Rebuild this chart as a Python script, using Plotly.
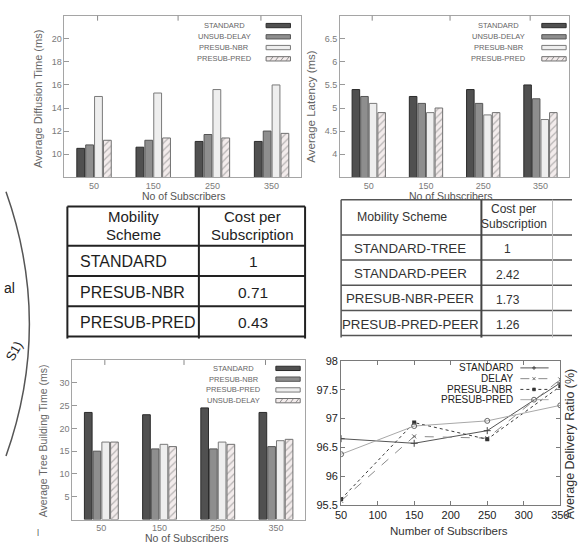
import plotly.graph_objects as go

W, H = 581, 548
FONT = "Liberation Sans, Arial, sans-serif"


def fx(px):
    return px / W


def fy(py):
    return 1 - py / H


# ---------------- data ----------------
subscribers = ["50", "150", "250", "350"]

diff_names = ["STANDARD", "UNSUB-DELAY", "PRESUB-NBR", "PRESUB-PRED"]
diff_standard = [10.5, 10.6, 11.1, 11.1]
diff_unsub = [10.8, 11.2, 11.7, 12.0]
diff_nbr = [15.0, 15.3, 15.6, 16.0]
diff_pred = [11.2, 11.4, 11.4, 11.8]
diff_ticks = [10, 12, 14, 16, 18, 20]

lat_names = ["STANDARD", "UNSUB-DELAY", "PRESUB-NBR", "PRESUB-PRED"]
lat_standard = [5.4, 5.25, 5.4, 5.5]
lat_unsub = [5.25, 5.1, 5.1, 5.2]
lat_nbr = [5.1, 4.9, 4.85, 4.75]
lat_pred = [4.9, 5.0, 4.9, 4.9]
lat_ticks = [4, 4.5, 5, 5.5, 6, 6.5]
lat_ticktext = ["4", "4.5", "5", "5.5", "6", "6.5"]

tree_names = ["STANDARD", "PRESUB-NBR", "PRESUB-PRED", "UNSUB-DELAY"]
tree_standard = [23.5, 23.0, 24.5, 23.5]
tree_nbr = [15.0, 15.5, 15.5, 16.0]
tree_pred = [17.0, 16.5, 17.0, 17.3]
tree_unsub = [17.0, 16.0, 16.5, 17.6]
tree_ticks = [5, 10, 15, 20, 25, 30]

deliv_names = ["STANDARD", "DELAY", "PRESUB-NBR", "PRESUB-PRED"]
deliv_x = [50, 150, 250, 350]
deliv_standard = [96.65, 96.57, 96.79, 97.62]
deliv_delay = [95.57, 96.69, 96.66, 97.68]
deliv_nbr = [95.60, 96.93, 96.64, 97.56]
deliv_pred = [96.38, 96.87, 96.96, 97.23]
deliv_xticks = [50, 100, 150, 200, 250, 300, 350]
deliv_yticks = [95.5, 96, 96.5, 97, 97.5, 98]
deliv_yticktext = ["95.5", "96", "96.5", "97", "97.5", "98"]

table1_header = [["Mobility", "Scheme"], ["Cost per", "Subscription"]]
table1_schemes = ["STANDARD", "PRESUB-NBR", "PRESUB-PRED"]
table1_costs = ["1", "0.71", "0.43"]

table2_header = [["Mobility Scheme"], ["Cost per", "Subscription"]]
table2_schemes = ["STANDARD-TREE", "STANDARD-PEER", "PRESUB-NBR-PEER", "PRESUB-PRED-PEER"]
table2_costs = ["1", "2.42", "1.73", "1.26"]

# ---------------- styles ----------------
bar_styles = [
    dict(color="#505050", line=dict(color="#2b2b2b", width=1)),
    dict(color="#8e8e8e", line=dict(color="#555555", width=1)),
    dict(color="#eeeeee", line=dict(color="#7a7a7a", width=1)),
    dict(color="#f3ecec", line=dict(color="#707070", width=1),
         pattern=dict(shape="/", fgcolor="#7a7a7a", bgcolor="#f3ecec",
                      size=5, solidity=0.25)),
]

line_styles = [
    dict(line=dict(color="#555555", width=1, dash="solid"),
         marker=dict(symbol="cross-thin", size=5, line=dict(width=1, color="#444444"))),
    dict(line=dict(color="#8a8a8a", width=1, dash="dash"),
         marker=dict(symbol="x-thin", size=4, line=dict(width=1, color="#666666"))),
    dict(line=dict(color="#3a3a3a", width=1, dash="dot"),
         marker=dict(symbol="square", size=4, color="#333333")),
    dict(line=dict(color="#a8a8a8", width=1, dash="solid"),
         marker=dict(symbol="circle-open", size=5, color="#666666")),
]

fig = go.Figure()


def add_bars(series, names, xa, ya):
    for vals, name, st in zip(series, names, bar_styles):
        fig.add_trace(go.Bar(x=subscribers, y=vals, name=name, marker=st,
                             xaxis=xa, yaxis=ya, showlegend=False))


add_bars([diff_standard, diff_unsub, diff_nbr, diff_pred], diff_names, "x", "y")
add_bars([lat_standard, lat_unsub, lat_nbr, lat_pred], lat_names, "x2", "y2")
add_bars([tree_standard, tree_nbr, tree_pred, tree_unsub], tree_names, "x3", "y3")

for vals, name, st in zip([deliv_standard, deliv_delay, deliv_nbr, deliv_pred],
                          deliv_names, line_styles):
    fig.add_trace(go.Scatter(x=deliv_x, y=vals, name=name, mode="lines+markers",
                             line=st["line"], marker=st["marker"],
                             xaxis="x4", yaxis="y4", showlegend=False))

# ---------------- axes ----------------
bar_x = dict(type="category", showline=True, mirror=True, linecolor="#a5a5a5",
             linewidth=1, ticks="", showgrid=False, zeroline=False,
             tickfont=dict(size=9, color="#7a7a7a", family=FONT))
bar_y = dict(showline=True, mirror=True, linecolor="#a5a5a5", linewidth=1,
             ticks="inside", ticklen=5, tickcolor="#999999", showgrid=False,
             zeroline=False, tickfont=dict(size=9, color="#7a7a7a", family=FONT))

fig.update_layout(
    xaxis=dict(bar_x, domain=[fx(60), fx(303)], anchor="y"),
    yaxis=dict(bar_y, domain=[fy(175), fy(10)], anchor="x", range=[8, 22],
               tickvals=diff_ticks),
    xaxis2=dict(bar_x, domain=[fx(343), fx(578)], anchor="y2"),
    yaxis2=dict(bar_y, domain=[fy(175), fy(10)], anchor="x2", range=[3.5, 7.0],
                tickvals=lat_ticks, ticktext=lat_ticktext),
    xaxis3=dict(bar_x, domain=[fx(68), fx(307)], anchor="y3"),
    yaxis3=dict(bar_y, domain=[fy(525), fy(362)], anchor="x3", range=[0, 35],
                tickvals=tree_ticks),
    xaxis4=dict(domain=[fx(344), fx(569)], anchor="y4", range=[50, 350],
                tickvals=deliv_xticks, showline=True, mirror="ticks",
                linecolor="#7a7a7a", linewidth=1, ticks="inside", ticklen=4,
                tickcolor="#7a7a7a", showgrid=False, zeroline=False,
                tickfont=dict(size=11, color="#222222", family=FONT)),
    yaxis4=dict(domain=[fy(510), fy(363)], anchor="x4", range=[95.5, 98],
                tickvals=deliv_yticks, ticktext=deliv_yticktext, showline=True,
                mirror="ticks", linecolor="#7a7a7a", linewidth=1, ticks="inside",
                ticklen=4, tickcolor="#7a7a7a", showgrid=False, zeroline=False,
                tickfont=dict(size=11, color="#222222", family=FONT)),
    barmode="group",
    bargap=0.4,
    bargroupgap=0.12,
    width=W,
    height=H,
    margin=dict(l=0, r=0, t=0, b=0),
    paper_bgcolor="white",
    plot_bgcolor="white",
    showlegend=False,
    font=dict(family=FONT),
)


def text(x, y, s, size, color, xanchor="center", yanchor="middle", angle=0):
    fig.add_annotation(x=fx(x), y=fy(y), xref="paper", yref="paper", text=s,
                       showarrow=False, xanchor=xanchor, yanchor=yanchor,
                       textangle=angle,
                       font=dict(size=size, color=color, family=FONT))


def hline(x0, x1, y, color, width, dash="solid"):
    fig.add_shape(type="line", xref="paper", yref="paper", x0=fx(x0), x1=fx(x1),
                  y0=fy(y), y1=fy(y), line=dict(color=color, width=width, dash=dash))


def vline(x, y0, y1, color, width):
    fig.add_shape(type="line", xref="paper", yref="paper", x0=fx(x), x1=fx(x),
                  y0=fy(y0), y1=fy(y1), line=dict(color=color, width=width))


def seg(x0, y0, x1, y1, color, width):
    fig.add_shape(type="line", xref="paper", yref="paper", x0=fx(x0), x1=fx(x1),
                  y0=fy(y0), y1=fy(y1), line=dict(color=color, width=width))


# axis titles
text(182, 194, "No of Subscribers", 10.5, "#555555")
text(456, 194, "No of Subscribers", 10.5, "#555555")
text(185, 543.5, "No of Subscribers", 10.5, "#555555")
text(455, 537, "Number of Subscribers", 11.5, "#333333")
text(33, 95, "Average Diffusion Time (ms)", 11, "#666666", angle=-90)
text(313, 103, "Average Latency (ms)", 11.5, "#666666", angle=-90)
text(38, 445, "Average Tree Building Time (ms)", 10.5, "#666666", angle=-90)
text(579, 448, "Average Delivery Ratio (%)", 12.5, "#333333", angle=-90)

# top ticks of bar charts (gnuplot style)
for xd, top in (("x", 10), ("x2", 10), ("x3", 362)):
    for f in (0.14, 0.48, 0.83):
        fig.add_shape(type="line", xref=xd + " domain", yref="paper", x0=f, x1=f,
                      y0=fy(top), y1=fy(top + 5), line=dict(color="#888888", width=1))


# bar chart legends
def bar_legend(names, text_cx, sw0, sw1, rows):
    for i, name in enumerate(names):
        y = rows[i]
        text(text_cx, y, name, 7.5, "#666666")
        st = bar_styles[i]
        fig.add_shape(type="rect", xref="paper", yref="paper", x0=fx(sw0), x1=fx(sw1),
                      y0=fy(y + 2.2), y1=fy(y - 2.2), fillcolor=st["color"],
                      line=dict(color=st["line"]["color"], width=1))
        if i == 3:
            for k in range(4):
                xa = sw0 + 4 + k * 5.5
                seg(xa, y + 2, xa + 3, y - 2, "#777777", 0.8)


legend_rows_top = [20, 31.5, 42.5, 54]
bar_legend(diff_names, 224, 267, 292, legend_rows_top)
bar_legend(lat_names, 506, 550, 575, legend_rows_top)
bar_legend(tree_names, 234, 277, 302, [370.5, 381.5, 392.5, 403.5])

# delivery-ratio legend
for i, name in enumerate(deliv_names):
    y = [370, 381, 392, 402.5][i]
    text(522, y, name, 10, "#222222", xanchor="right")
    st = line_styles[i]
    hline(528, 557, y, st["line"]["color"], 1, st["line"]["dash"])
    if i == 0:
        seg(540, y, 544, y, "#444444", 1)
        seg(542, y - 2, 542, y + 2, "#444444", 1)
    elif i == 1:
        seg(540.5, y - 1.5, 543.5, y + 1.5, "#666666", 1)
        seg(540.5, y + 1.5, 543.5, y - 1.5, "#666666", 1)
    elif i == 2:
        fig.add_shape(type="rect", xref="paper", yref="paper", x0=fx(540.5), x1=fx(543.5),
                      y0=fy(y + 1.5), y1=fy(y - 1.5), fillcolor="#333333",
                      line=dict(color="#333333", width=0.5))
    else:
        fig.add_shape(type="circle", xref="paper", yref="paper", x0=fx(539.5), x1=fx(544.5),
                      y0=fy(y + 2.5), y1=fy(y - 2.5), fillcolor="rgba(0,0,0,0)",
                      line=dict(color="#666666", width=1))


def header_lines(cx, lines, y_first, step, size, color):
    for j, s in enumerate(lines):
        text(cx, y_first + j * step, s, size, color)


# ---------------- table 1 ----------------
t1_left, t1_div, t1_right = 63, 198, 307
t1_top, t1_head, t1_rowh = 205, 245, 31
t1_bottom = t1_head + t1_rowh * len(table1_schemes)
for k in range(len(table1_schemes) + 2):
    yy = t1_top if k == 0 else t1_head + t1_rowh * (k - 1)
    hline(t1_left, t1_right, yy, "#222222", 2)
for xx in (t1_left, t1_div, t1_right):
    vline(xx, t1_top, t1_bottom + 2, "#222222", 2)
header_lines((t1_left + t1_div) / 2, table1_header[0], 215.5, 18, 15, "#222222")
header_lines((t1_div + t1_right) / 2 + 1, table1_header[1], 215.5, 18.5, 15, "#222222")
for i, (s, c) in enumerate(zip(table1_schemes, table1_costs)):
    yc = t1_head + t1_rowh * (i + 0.5)
    text(74, yc + 1, s, 16, "#1e1e1e", xanchor="left")
    text(254, yc + 1, c, 15.5, "#1e1e1e")

# ---------------- table 2 ----------------
t2_left, t2_div, t2_right = 344, 488, 561
t2_top, t2_head, t2_rowh = 198, 234, 25.75
t2_bottom = t2_head + t2_rowh * len(table2_schemes)
for k in range(len(table2_schemes) + 2):
    yy = t2_top if k == 0 else t2_head + t2_rowh * (k - 1)
    hline(t2_left, W, yy, "#555555", 1.5)
vline(t2_left, t2_top, t2_bottom + 2, "#555555", 1.5)
vline(t2_div, t2_top, t2_bottom + 2, "#444444", 2)
vline(t2_right, t2_top, t2_bottom + 2, "#bbbbbb", 1)
header_lines(406, table2_header[0], 216, 15, 12.3, "#333333")
header_lines(521, table2_header[1], 207.5, 15, 12, "#333333")
for i, (s, c) in enumerate(zip(table2_schemes, table2_costs)):
    yc = t2_head + t2_rowh * (i + 0.5)
    text(415, yc + 1, s, 13.3, "#333333")
    text(515, yc + 2, c, 12, "#333333")

# ---------------- left fragments ----------------
fig.add_shape(type="path", xref="paper", yref="paper",
              path=f"M {fx(0)},{fy(190)} Q {fx(48)},{fy(325)} {fx(0)},{fy(460)}",
              line=dict(color="#555555", width=1.5))
text(-4, 288, "al", 14, "#222222", xanchor="left")
text(8, 353, "S1)", 13, "#222222", angle=-60)
text(33, 537, "|", 8, "#333333")

fig.write_html(
    "out.html",
    config={"displayModeBar": False},
    post_script=("document.body.style.margin='0';"
                 "document.documentElement.style.overflow='hidden';"
                 "document.body.style.overflow='hidden';"),
)
